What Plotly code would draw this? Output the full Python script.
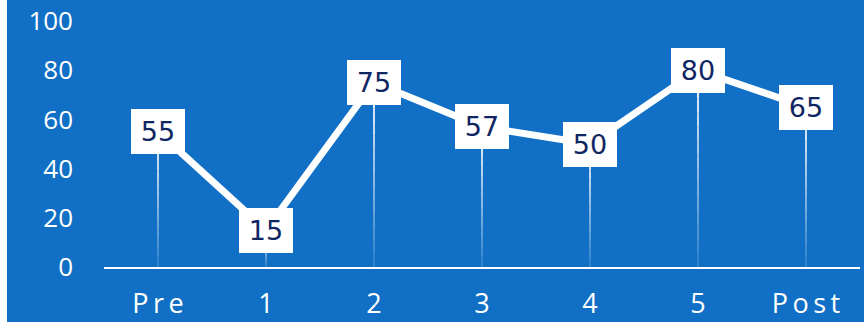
import plotly.graph_objects as go

categories = ["Pre", "1", "2", "3", "4", "5", "Post"]
values = [55, 15, 75, 57, 50, 80, 65]
y_ticks = [0, 20, 40, 60, 80, 100]

BLUE = "#1170C5"
NAVY = "#0F2662"

x_idx = list(range(len(categories)))
tick_text = ["\u2009".join(c) for c in categories]

fig = go.Figure()

fig.add_trace(go.Scatter(
    x=x_idx, y=values, mode="lines",
    line=dict(color="white", width=7),
    hoverinfo="skip", showlegend=False,
))

shapes = []
# white strip on the left edge of the picture
shapes.append(dict(type="rect", xref="paper", yref="paper",
                   x0=-104 / 756, x1=-97 / 756, y0=-1, y1=2,
                   fillcolor="white", line_width=0, layer="below"))
# fading drop lines
nseg = 14
for i, v in zip(x_idx, values):
    for k in range(nseg):
        y0 = v * (1 - k / nseg)
        y1 = v * (1 - (k + 1) / nseg)
        op = 0.85 * (1 - k / nseg) + 0.08
        shapes.append(dict(type="line", xref="x", yref="y",
                           x0=i, x1=i, y0=y0, y1=y1,
                           line=dict(color=f"rgba(255,255,255,{op:.3f})", width=2),
                           layer="below"))

annotations = []
for i, v in zip(x_idx, values):
    annotations.append(dict(
        x=i, y=v, xref="x", yref="y", text=str(v), showarrow=False,
        bgcolor="white", width=54, height=45, borderpad=0, borderwidth=0,
        font=dict(family="DejaVu Sans", size=27, color=NAVY),
        xanchor="center", yanchor="middle",
    ))

fig.update_layout(
    width=864, height=322,
    margin=dict(l=104, r=4, t=21, b=55, autoexpand=False),
    paper_bgcolor=BLUE, plot_bgcolor=BLUE,
    shapes=shapes, annotations=annotations,
    showlegend=False,
    xaxis=dict(
        range=[-0.5, 6.5], tickmode="array", tickvals=x_idx, ticktext=tick_text,
        showgrid=False, zeroline=False, showline=True, linecolor="white", linewidth=2,
        ticks="", tickfont=dict(family="Open Sans", size=27, color="white"),
        ticklabelstandoff=12, automargin=False,
        fixedrange=True,
    ),
    yaxis=dict(
        range=[0, 100], tickmode="array", tickvals=y_ticks,
        showgrid=False, zeroline=False, showline=False, ticks="",
        tickfont=dict(family="Open Sans", size=26, color="white"),
        ticklabelstandoff=30, automargin=False,
        fixedrange=True,
    ),
)

fig.write_html("out.html")
